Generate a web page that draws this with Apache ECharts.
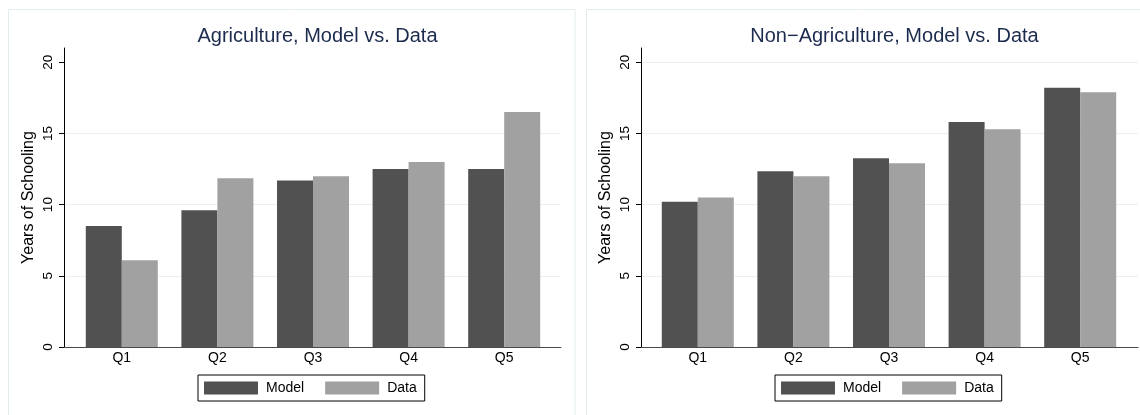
<!DOCTYPE html>
<html>
<head>
<meta charset="utf-8">
<title>Years of Schooling, Model vs. Data</title>
<script src="https://cdn.jsdelivr.net/npm/echarts@6/dist/echarts.min.js"></script>
<style>
  html, body { margin: 0; padding: 0; background: #ffffff; }
  #chart { width: 1140px; height: 415px; }
</style>
</head>
<body>
<div id="chart"></div>
<script>
// Quintiles and average years of schooling per sector
const categories = ['Q1', 'Q2', 'Q3', 'Q4', 'Q5'];
const agriModel = [8.5, 9.6, 11.7, 12.5, 12.5];
const agriData = [6.1, 11.85, 12.0, 13.0, 16.5];
const nonAgriModel = [10.2, 12.35, 13.25, 15.8, 18.2];
const nonAgriData = [10.5, 12.0, 12.9, 15.3, 17.9];
const yTicks = [0, 5, 10, 15, 20];
const panelTitles = ['Agriculture, Model vs. Data', 'Non\u2212Agriculture, Model vs. Data'];
const seriesNames = ['Model', 'Data'];
const yTitle = 'Years of Schooling';

const FONT = "'Liberation Sans', Arial, Helvetica, sans-serif";
const COLOR_MODEL = '#515151';
const COLOR_DATA = '#a1a1a1';
const Y_MAX = 21;

// Panel geometry: frame grid (axes and gridlines) and an inset grid for the bars
const panels = [
  { frameLeft: 64, barLeft: 74, border: { x: 8.5, y: 9.5, w: 566.5 }, legendLeft: 198, gridAt: [5, 10, 15] },
  { frameLeft: 641, barLeft: 650, border: { x: 586.5, y: 9.5, w: 600 }, legendLeft: 775, gridAt: [5, 10, 15, 20] }
];
const TOP = 48, HEIGHT = 299, FRAME_W = 497, BAR_W = 478;

const grids = [], xAxes = [], yAxes = [], series = [], titles = [], legends = [], graphics = [];

panels.forEach((p, i) => {
  const frameIdx = grids.length;
  grids.push({ left: p.frameLeft, top: TOP, width: FRAME_W, height: HEIGHT });
  const barIdx = grids.length;
  grids.push({ left: p.barLeft, top: TOP, width: BAR_W, height: HEIGHT });

  // frame axes
  xAxes.push({
    gridIndex: frameIdx, type: 'value', min: 0, max: 1,
    axisLine: { show: true, lineStyle: { color: '#4a4a4a', width: 1 } },
    axisTick: { show: false }, axisLabel: { show: false }, splitLine: { show: false }
  });
  yAxes.push({
    gridIndex: frameIdx, type: 'value', min: 0, max: Y_MAX,
    name: yTitle, nameLocation: 'middle', nameGap: 27,
    nameTextStyle: { fontFamily: FONT, fontSize: 16, color: '#000' },
    axisLine: { show: true, lineStyle: { color: '#000', width: 1 } },
    axisTick: { show: true, length: 5, customValues: yTicks, lineStyle: { color: '#000' } },
    axisLabel: { rotate: 90, customValues: yTicks, margin: 9, fontFamily: FONT, fontSize: 13.5, color: '#000' },
    splitLine: { show: false }
  });
  // gridlines on a second, silent axis of the frame grid
  yAxes.push({
    gridIndex: frameIdx, type: 'value', min: 0, max: Y_MAX, position: 'left',
    axisLine: { show: false },
    axisTick: { show: false, customValues: p.gridAt },
    axisLabel: { show: false, customValues: p.gridAt },
    splitLine: { show: true, lineStyle: { color: '#e8f0f2', width: 1 } }
  });

  // bar axes
  const barXIdx = xAxes.length;
  xAxes.push({
    gridIndex: barIdx, type: 'category', data: categories,
    axisLine: { show: false }, axisTick: { show: false },
    axisLabel: { margin: 4, fontFamily: FONT, fontSize: 14, color: '#000' }
  });
  const barYIdx = yAxes.length;
  yAxes.push({ gridIndex: barIdx, type: 'value', min: 0, max: Y_MAX, show: false });

  const model = i === 0 ? agriModel : nonAgriModel;
  const data = i === 0 ? agriData : nonAgriData;
  series.push({
    name: seriesNames[0], type: 'bar', xAxisIndex: barXIdx, yAxisIndex: barYIdx,
    data: model, barWidth: 36, barGap: '0%', itemStyle: { color: COLOR_MODEL }
  });
  series.push({
    name: seriesNames[1], type: 'bar', xAxisIndex: barXIdx, yAxisIndex: barYIdx,
    data: data, barWidth: 36, barGap: '0%', itemStyle: { color: COLOR_DATA }
  });

  titles.push({
    text: panelTitles[i], left: p.frameLeft + FRAME_W / 2, top: 21, textAlign: 'center',
    textStyle: { fontFamily: FONT, fontSize: 20, fontWeight: 'normal', color: '#1c2b4e' }
  });

  legends.push({
    data: seriesNames, left: p.legendLeft, top: 375, orient: 'horizontal',
    icon: 'rect', itemWidth: 54, itemHeight: 13, itemGap: 21,
    padding: [6, 8, 6, 6], borderColor: '#000', borderWidth: 1, backgroundColor: '#fff',
    textStyle: { fontFamily: FONT, fontSize: 14, color: '#000', padding: [0, 0, 0, 3] },
    selectedMode: false
  });

  graphics.push({
    type: 'rect', silent: true, z: -10,
    shape: { x: p.border.x, y: p.border.y, width: p.border.w, height: 420 },
    style: { fill: '#fff', stroke: '#e3ecee', lineWidth: 1 }
  });
});

const chart = echarts.init(document.getElementById('chart'), null, { renderer: 'canvas' });
chart.setOption({
  animation: false,
  backgroundColor: '#ffffff',
  title: titles,
  legend: legends,
  grid: grids,
  xAxis: xAxes,
  yAxis: yAxes,
  series: series,
  graphic: graphics
});
</script>
</body>
</html>
